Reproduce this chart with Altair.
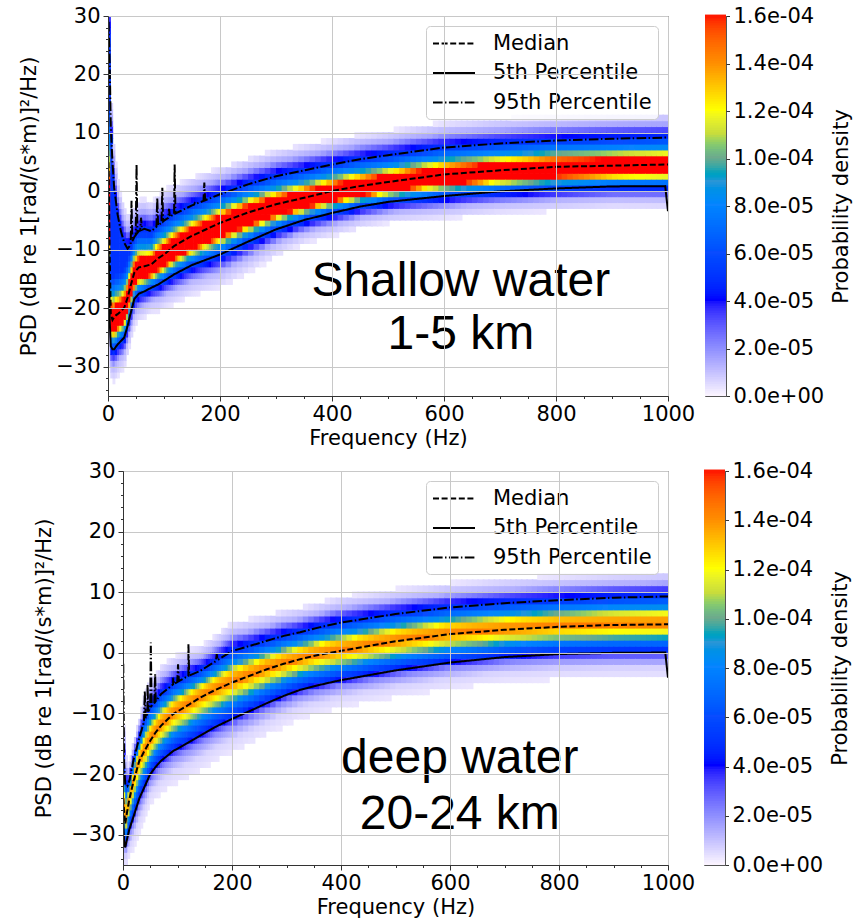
import altair as alt
import numpy as np
import pandas as pd

# ---------------- values ----------------
SERIES = ["Median", "5th Percentile", "95th Percentile"]

# Shallow water 1-5 km (frequency in Hz, PSD in dB)
SH_F = [1, 3, 5, 8, 11, 14, 17, 23, 29, 35, 40, 47, 55, 65, 77, 90, 100, 118, 150, 200,
        250, 300, 350, 400, 450, 500, 600, 700, 800, 900, 995, 1000]
SH_P5 = [-10, -22, -26.5, -27, -27, -26.6, -26.2, -25.6, -25.0, -23, -21, -18.4, -17.5, -17.1, -16.5,
         -15.9, -15.3, -14.2, -12.6, -10.8, -8.6, -6.5, -4.9, -3.7, -2.6, -1.8, -0.8, 0.0, 0.5, 0.85, 0.9, -3.4]
SH_MED = [5, -10, -21, -22, -21.5, -21.2, -21, -20.5, -19.9, -18.2, -16.3, -13.9, -13.0, -12.8, -12.5,
          -11.4, -10.8, -9.35, -7.6, -5.4, -3.6, -2.2, -1.1, 0.06, 0.9, 1.6, 2.9, 3.6, 4.2, 4.4, 4.6, 4.6]
SH_P95 = [29, 22, 11, 5, 0.6, -1.6, -3.9, -6.8, -8.8, -9.8, -9.2, -7.8, -6.8, -6.4, -6.8,
          -5.8, -5.0, -3.9, -2.4, -0.5, 1.2, 2.6, 3.6, 4.6, 5.5, 6.2, 7.5, 8.2, 8.7, 9.0, 9.2, 9.2]
SH_SPIKE_F = [42, 51, 59, 88, 97, 109, 119, 155, 172]
SH_SPIKE_DB = [-1.6, 4.6, -4.5, -1.1, 0.6, -3.0, 4.6, -2.0, 1.5]
SH_TEXT = ["Shallow water", "1-5 km"]
SH_TEXT_F = [630, 630]
SH_TEXT_DB = [-17.9, -27.0]

# Deep water 20-24 km
DP_F = [0.5, 2, 4, 8, 12, 19, 30, 38, 45, 50, 60, 70, 92, 120, 141, 170, 200, 235, 264, 295, 325,
        360, 400, 500, 600, 700, 800, 900, 995, 1000]
DP_P5 = [-28, -31, -32.1, -30.5, -29, -27.1, -24, -22.4, -21, -20.0, -18.8, -17.8, -16.2, -14.8, -13.7,
         -12.2, -10.9, -9.5, -8.3, -7.1, -6.1, -5.3, -4.5, -2.9, -1.6, -0.7, -0.2, 0.0, 0.05, -4.1]
DP_MED = [-24, -26, -28.2, -26, -24, -21.3, -17.8, -16.4, -15.3, -14.5, -13.1, -12.0, -10.1, -8.6, -7.4,
          -6.1, -4.9, -3.7, -2.7, -1.8, -1.05, -0.3, 0.33, 1.9, 3.1, 3.8, 4.3, 4.6, 4.7, 4.7]
DP_P95 = [-1.8, -18, -21.6, -22, -21, -17.8, -14, -11.5, -10, -9.0, -8.0, -6.8, -5.2, -3.8, -3.0,
          -1.4, 0.3, 1.2, 2.0, 2.8, 3.4, 4.2, 5.0, 6.4, 7.5, 8.2, 8.7, 9.1, 9.3, 9.3]
DP_SPIKE_F = [40, 45, 51, 59, 92, 101, 120, 172]
DP_SPIKE_DB = [-6.3, -5.2, 1.7, -3.5, -4.1, -1.9, 1.4, -0.2]
DP_TEXT = ["deep water", "20-24 km"]
DP_TEXT_F = [618, 618]
DP_TEXT_DB = [-19.9, -29.0]

# density across the band: offset in units of the percentile spread -> density (1e-5)
PROFILE_U = [-2.2, -1.55, -1.2, -0.9, -0.72, -0.55, -0.45, 0.0, 0.25, 0.35, 0.47, 0.6, 1.0, 1.25, 1.5, 2.0]
SH_PROFILE = [0, 1.2, 4, 6.5, 9, 12, 16.2, 18, 16.0, 13, 10.5, 8.5, 5, 3.5, 1.5, 0]
DP_PROFILE = [0, 0.6, 2, 5, 6.5, 8, 9.8, 14.5, 13.3, 12.5, 10.5, 8.5, 5, 3.5, 1.3, 0]

# colour bar
CB_STOPS = [0, 2e-5, 4e-5, 6e-5, 8e-5, 9e-5, 1e-4, 1.1e-4, 1.2e-4, 1.4e-4, 1.6e-4]
CB_COLORS = ["#ffffff", "#8c8cff", "#0000ff", "#0a4cff", "#0a84ff", "#2a96d6",
             "#6eaa8c", "#c8dc3c", "#ffff00", "#ff8c00", "#ff0000"]
CB_TICKS = [0, 2e-5, 4e-5, 6e-5, 8e-5, 1e-4, 1.2e-4, 1.4e-4, 1.6e-4]

X_TICKS = list(range(0, 1001, 50))
Y_TICKS = list(range(-34, 31, 2))
DASHES = [[6, 2.6], [1, 0], [9.6, 2.4, 1.5, 2.4]]

CB_LABEL = "replace(replace(format(datum.value, '.1e'), 'e-', 'e-0'), 'e+', 'e+0')"


def band_table(F, p5, med, p95, profile):
    edges = list(range(0, 200, 4)) + list(range(200, 1001, 10))
    rows = []
    for lo, hi in zip(edges[:-1], edges[1:]):
        fc = 0.5 * (lo + hi)
        m = float(np.interp(fc, F, med))
        up = max(float(np.interp(fc, F, p95)) - m, 0.8)
        dn = max(m - float(np.interp(fc, F, p5)), 0.8)
        core = min(up, 1.3 * dn)
        for d in range(-35, 30):
            dc = d + 0.5
            if dc >= m:
                if dc - m <= core:
                    u = (dc - m) / core
                elif dc <= m + up:
                    u = 1.0
                else:
                    u = 1.0 + (dc - m - up) / core
            else:
                u = (dc - m) / dn
            val = float(np.interp(u, PROFILE_U, profile)) * 1e-5
            if val >= 0.25e-5:
                rows.append({"f0": lo, "f1": hi + 0.3 * (hi - lo), "d0": d, "d1": d + 1.12, "dens": val})
    return pd.DataFrame(rows)


def line_table(F, p5, med, p95, sf, sdb):
    rows = []
    for f, v in zip(F, med):
        rows.append({"series": "Median", "f": f, "db": v})
    for f, v in zip(F, p5):
        rows.append({"series": "5th Percentile", "f": f, "db": v})
    pts = list(zip(F, p95))
    for f, top in zip(sf, sdb):
        pts += [(f - 1.5, float(np.interp(f - 1.5, F, p95))), (f, top),
                (f + 1.5, float(np.interp(f + 1.5, F, p95)))]
    pts.sort()
    for f, v in pts:
        rows.append({"series": "95th Percentile", "f": f, "db": v})
    return pd.DataFrame(rows)


def panel(F, p5, med, p95, sf, sdb, profile, texts, tf, tdb, w, h):
    xs = alt.Scale(domain=[0, 1000], nice=False, zero=False)
    ys = alt.Scale(domain=[-35, 30], nice=False, zero=False)
    xaxis = alt.Axis(values=X_TICKS, title="Frequency (Hz)", zindex=1, format="d",
                     labelExpr="datum.value % 200 === 0 ? datum.label : ''",
                     tickSize={"condition": {"test": "datum.value % 200 === 0", "value": 5}, "value": 2.5},
                     gridOpacity={"condition": {"test": "datum.value % 200 === 0", "value": 1}, "value": 0},
                     labelOverlap=False, labelFlush=False, labelPadding=2, titlePadding=3)
    yaxis = alt.Axis(values=Y_TICKS, title="PSD (dB re 1[rad/(s*m)]²/Hz)", zindex=1, format="d",
                     labelExpr="datum.value % 10 === 0 ? replace(datum.label, '-', '−') : ''",
                     tickSize={"condition": {"test": "datum.value % 10 === 0", "value": 5}, "value": 2.5},
                     gridOpacity={"condition": {"test": "datum.value % 10 === 0", "value": 1}, "value": 0},
                     labelOverlap=False, labelFlush=False, labelPadding=3, titlePadding=16)
    heat = alt.Chart(band_table(F, p5, med, p95, profile)).mark_rect(clip=True).encode(
        x=alt.X("f0:Q", scale=xs, axis=xaxis),
        x2="f1:Q",
        y=alt.Y("d0:Q", scale=ys, axis=yaxis),
        y2="d1:Q",
        color=alt.Color("dens:Q", scale=alt.Scale(domain=CB_STOPS, range=CB_COLORS, clamp=True),
                        legend=None),
    )
    lines = alt.Chart(line_table(F, p5, med, p95, sf, sdb)).mark_line(
        color="black", strokeWidth=2, clip=True).encode(
        x=alt.X("f:Q", scale=xs, axis=xaxis),
        y=alt.Y("db:Q", scale=ys, axis=yaxis),
        strokeDash=alt.StrokeDash("series:N", scale=alt.Scale(domain=SERIES, range=DASHES),
                                  legend=alt.Legend(orient="top-right", offset=10, title=None,
                                                    symbolType="M-2,0H2", symbolSize=441,
                                                    symbolOffset=10.5,
                                                    symbolStrokeWidth=2, symbolStrokeColor="black",
                                                    labelFontSize=21, labelOffset=27.5, rowPadding=7.5,
                                                    padding=6, fillColor="rgba(255,255,255,0.8)",
                                                    strokeColor="#cccccc", cornerRadius=4,
                                                    labelLimit=400)),
        order="f:Q",
    )
    txt = alt.Chart(pd.DataFrame({"f": tf, "db": tdb, "t": texts})).mark_text(
        font="Liberation Sans", fontSize=48, align="center", baseline="alphabetic", color="black").encode(
        x=alt.X("f:Q", scale=xs, axis=xaxis),
        y=alt.Y("db:Q", scale=ys, axis=yaxis),
        text="t:N",
    )
    return alt.layer(heat, lines, txt).properties(width=w, height=h)


def colorbar(h):
    v = np.linspace(CB_STOPS[0], CB_STOPS[-1], 161)
    df = pd.DataFrame({"v0": v[:-1], "v1": v[1:] + 0.6e-6, "x0": 0, "x1": 1})
    cs = alt.Scale(domain=[CB_STOPS[0], CB_STOPS[-1]], nice=False, zero=False)
    return alt.Chart(df).mark_rect().encode(
        x=alt.X("x0:Q", axis=None, scale=alt.Scale(domain=[0, 1], nice=False)),
        x2="x1:Q",
        y=alt.Y("v0:Q", scale=cs,
                axis=alt.Axis(orient="right", values=CB_TICKS, labelExpr=CB_LABEL, grid=False,
                              title="Probability density", titleAngle=270, titleBaseline="top",
                              tickSize=3.5, labelPadding=3.5, titlePadding=7,
                              labelOverlap=False, labelFlush=False, domain=False)),
        y2="v1:Q",
        color=alt.Color("v0:Q", scale=alt.Scale(domain=CB_STOPS, range=CB_COLORS), legend=None),
    ).properties(width=21, height=h, view=alt.ViewBackground(stroke="#555555"))


def spacer(w):
    return alt.Chart(pd.DataFrame({"v": [0]})).mark_point(opacity=0).encode(
        x=alt.X("v:Q", axis=None), y=alt.Y("v:Q", axis=None)
    ).properties(width=w, height=1, view=alt.ViewBackground(strokeOpacity=0))


top = panel(SH_F, SH_P5, SH_MED, SH_P95, SH_SPIKE_F, SH_SPIKE_DB, SH_PROFILE,
            SH_TEXT, SH_TEXT_F, SH_TEXT_DB, 560, 380)
bottom = panel(DP_F, DP_P5, DP_MED, DP_P95, DP_SPIKE_F, DP_SPIKE_DB, DP_PROFILE,
               DP_TEXT, DP_TEXT_F, DP_TEXT_DB, 545, 394)

res = dict(color="independent", strokeDash="independent")
top_row = alt.hconcat(
    spacer(1),
    alt.hconcat(top, colorbar(380), spacing=37, bounds="flush").resolve_scale(**res),
    spacing=0).resolve_scale(**res)
bottom_row = alt.hconcat(
    spacer(19),
    alt.hconcat(bottom, colorbar(394), spacing=36, bounds="flush").resolve_scale(**res),
    spacing=0).resolve_scale(**res)

chart = alt.vconcat(top_row, bottom_row, spacing=10).resolve_scale(**res).properties(
    padding={"left": 11, "top": 4, "right": 0, "bottom": 0}
).configure_view(
    stroke="#333333", strokeWidth=1
).configure_axis(
    labelFont="DejaVu Sans", titleFont="DejaVu Sans", labelFontSize=21, titleFontSize=21,
    titleFontWeight="normal", labelColor="black", titleColor="black",
    domainColor="#333333", tickColor="#333333", gridColor="#c8c8c8", gridWidth=1
).configure_legend(
    labelFont="DejaVu Sans", titleFont="DejaVu Sans", labelColor="black", titleColor="black"
)

chart.save("out.html", embed_options={"renderer": "svg", "actions": False})
